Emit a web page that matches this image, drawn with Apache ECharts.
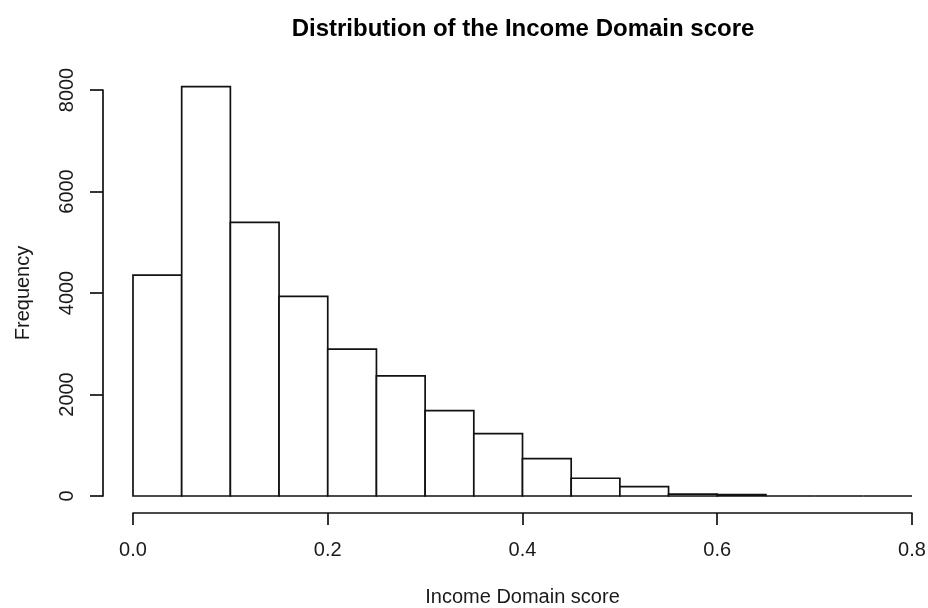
<!DOCTYPE html>
<html>
<head>
<meta charset="utf-8">
<script src="https://cdn.jsdelivr.net/npm/echarts@6/dist/echarts.min.js"></script>
<style>
  html, body { margin: 0; padding: 0; background: #fff; }
</style>
</head>
<body>
<div id="box" style="width: 928px; height: 608px"></div>
<script>
// histogram bins (left edges, width 0.05) and counts
const binStarts = [0.0, 0.05, 0.10, 0.15, 0.20, 0.25, 0.30, 0.35, 0.40, 0.45, 0.50, 0.55, 0.60, 0.65, 0.70, 0.75];
const binWidth = 0.05;
const counts = [4352, 8065, 5391, 3932, 2893, 2366, 1684, 1230, 737, 350, 185, 35, 30, 0, 0, 0];
const xTicks = [0.0, 0.2, 0.4, 0.6, 0.8];
const yTicks = [0, 2000, 4000, 6000, 8000];

const font = "'Liberation Sans', Arial, sans-serif";
const ink = "#111";

let chart = echarts.init(document.getElementById("box"));

let bins = binStarts.map((x0, i) => [x0, x0 + binWidth, counts[i]]);

let option = {
  animation: false,
  backgroundColor: "#fff",
  title: {
    text: "Distribution of the Income Domain score",
    left: 518,
    textAlign: "center",
    top: 12,
    textStyle: {
      fontFamily: font,
      fontSize: 24,
      fontWeight: "bold",
      color: "#000",
    },
  },
  grid: {
    left: 133,
    right: 16,
    top: 90,
    bottom: 112,
    outerBoundsMode: "none", // keep the plot box where it is
  },
  xAxis: {
    type: "value",
    min: xTicks[0],
    max: xTicks[xTicks.length - 1],
    interval: 0.2,
    offset: 17,
    name: "Income Domain score",
    nameLocation: "middle",
    nameGap: 74,
    nameTextStyle: { fontFamily: font, fontSize: 20, color: "#1a1a1a" },
    axisLine: { show: true, onZero: false, lineStyle: { color: ink, width: 1.7 } },
    axisTick: { show: true, length: 12, lineStyle: { color: ink, width: 1.7 } },
    axisLabel: {
      margin: 27,
      fontFamily: font,
      fontSize: 20,
      color: "#1a1a1a",
      formatter: (v) => v.toFixed(1),
    },
    splitLine: { show: false },
  },
  yAxis: {
    type: "value",
    min: yTicks[0],
    max: yTicks[yTicks.length - 1],
    interval: 2000,
    offset: 30,
    name: "Frequency",
    nameLocation: "middle",
    nameGap: 70,
    nameTextStyle: { fontFamily: font, fontSize: 20, color: "#1a1a1a" },
    axisLine: { show: true, onZero: false, lineStyle: { color: ink, width: 1.7 } },
    axisTick: { show: true, length: 13, lineStyle: { color: ink, width: 1.7 } },
    axisLabel: {
      rotate: 90,
      margin: 26,
      fontFamily: font,
      fontSize: 20,
      color: "#1a1a1a",
      formatter: (v) => String(v),
    },
    splitLine: { show: false },
  },
  series: [
    {
      type: "custom",
      clip: false,
      data: bins,
      encode: { x: [0, 1], y: 2 },
      renderItem: function (params, api) {
        let p0 = api.coord([api.value(0), api.value(2)]);
        let p1 = api.coord([api.value(1), 0]);
        return {
          type: "rect",
          shape: { x: p0[0], y: p0[1], width: p1[0] - p0[0], height: p1[1] - p0[1] },
          style: { fill: "#fff", stroke: ink, lineWidth: 1.7 },
        };
      },
    },
  ],
};
chart.setOption(option);
</script>
</body>
</html>
